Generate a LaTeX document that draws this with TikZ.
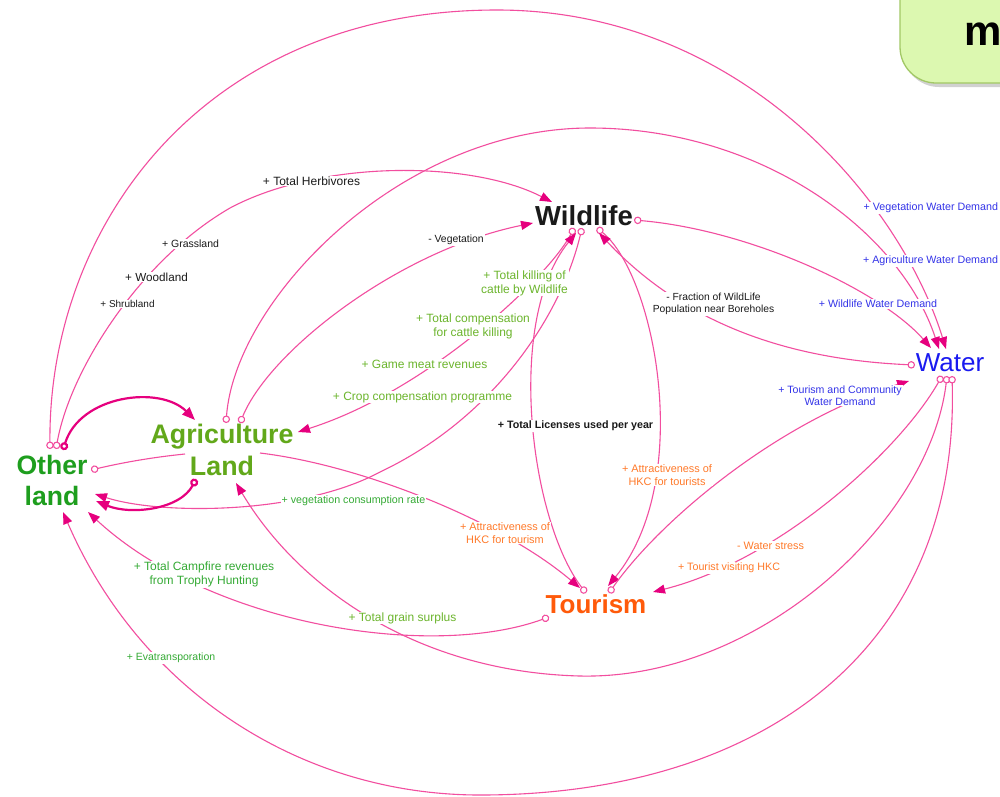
\documentclass[tikz,border=0pt]{standalone}
\usepackage{fontspec}
\setmainfont{Liberation Sans}
\usetikzlibrary{arrows.meta}
\definecolor{lnk}{HTML}{F24E9F}
\definecolor{arr}{HTML}{E6007E}
\definecolor{tblack}{HTML}{1A1A1A}
\definecolor{agri}{HTML}{62A81A}
\definecolor{oth}{HTML}{1E9E1E}
\definecolor{tour}{HTML}{FF5A0A}
\definecolor{wblue}{HTML}{1A1AF0}
\definecolor{lgreen}{HTML}{6CB52D}
\definecolor{dgreen}{HTML}{35AA35}
\definecolor{lblue}{HTML}{3434E8}
\definecolor{lorange}{HTML}{FF7A2A}
\definecolor{boxfill}{HTML}{DCF8B0}
\definecolor{boxline}{HTML}{A2C866}
\tikzset{
  link/.style={draw=lnk, line width=1.1pt,
    {Circle[length=7.5pt,width=7.5pt,fill=white]}-{Triangle[length=12pt,width=9pt,color=arr]}},
  linkplain/.style={draw=lnk, line width=1.1pt, -{Triangle[length=12pt,width=9pt,color=arr]}},
  linkcirc/.style={draw=lnk, line width=1.1pt, {Circle[length=7.5pt,width=7.5pt,fill=white]}-},
  thicklink/.style={draw=arr, line width=2.2pt,
    {Circle[length=8pt,width=8pt,fill=white]}-{Triangle[length=13pt,width=10pt,color=arr]}},
  lbl/.style={fill=white, inner sep=0.8pt, align=center},
  mainnode/.style={inner sep=0pt, align=center}
}
\begin{document}
\begin{tikzpicture}[x=1pt,y=-1pt]
\useasboundingbox (0,0) rectangle (1000,796);
\fill[white] (0,0) rectangle (1000,796);

% top-right box
\fill[black, opacity=0.18, rounded corners=36pt] (903,-40) rectangle (1043,87);
\draw[fill=boxfill, draw=boxline, line width=1.3pt, rounded corners=36pt] (900,-40) rectangle (1040,83);
\node[anchor=base west, inner sep=0pt, font=\bfseries\fontsize{42}{42}\selectfont] (boxm) at (964,45) {m};

% main variables
\node[mainnode, text=tblack, font=\bfseries\fontsize{27.5}{30}\selectfont] (wl) at (584,216) {Wildlife};
\node[mainnode, text=wblue, font=\fontsize{26}{30}\selectfont] (wa) at (950,363) {Water};
\node[mainnode, text=agri, font=\bfseries\fontsize{26.8}{32}\selectfont] (ag) at (222,450) {Agriculture\\Land};
\node[mainnode, text=oth, font=\bfseries\fontsize{26.6}{31}\selectfont] (ol) at (52,480) {Other\\land};
\node[mainnode, text=tour, font=\bfseries\fontsize{26}{30}\selectfont] (to) at (596,604) {Tourism};

% ports
\coordinate (ol1) at (50,449);
\coordinate (ol2) at (56,449);
\coordinate (ol3) at (63,450);
\coordinate (ol4) at (91,470);
\coordinate (olA) at (95,494);
\coordinate (olB) at (96,501);
\coordinate (olC) at (63,512);
\coordinate (olD) at (88,512);
\coordinate (ag1) at (226,423);
\coordinate (ag2) at (240,423);
\coordinate (ag3) at (196,479);
\coordinate (agA) at (298,432);
\coordinate (agB) at (195,420);
\coordinate (agC) at (236,483);
\coordinate (agR) at (260,453);
\coordinate (agL) at (185,454);
\coordinate (wlR) at (634,220);
\coordinate (wl1) at (574,228);
\coordinate (wl2) at (582,228);
\coordinate (wl3) at (597,228);
\coordinate (wlA) at (552,202);
\coordinate (wlB) at (533,223);
\coordinate (wlC) at (576,233);
\coordinate (wlD) at (599,233);
\coordinate (waL) at (915,365);
\coordinate (wa1) at (942,376);
\coordinate (wa2) at (947,376);
\coordinate (wa3) at (952,376);
\coordinate (waA) at (946,349);
\coordinate (waB) at (939,349);
\coordinate (waC) at (931,348);
\coordinate (waD) at (909,381);
\coordinate (to1) at (586,593);
\coordinate (to2) at (609,593);
\coordinate (to3) at (549,617);
\coordinate (toA) at (580,588);
\coordinate (toB) at (608,586);
\coordinate (toC) at (653,592);
\coordinate (apex1) at (497,10);
\coordinate (apex2) at (590,128);
\coordinate (hb) at (230,208);
\coordinate (vc) at (380,472);
\coordinate (gr) at (580,676);
\coordinate (ev) at (480,795);

% connectors
\draw[link] (ol1) .. controls (48,230) and (200,10) .. (apex1) .. controls (740,10) and (900,200) .. (waA);
\draw[link] (ag1) .. controls (235,300) and (400,128) .. (apex2) .. controls (760,128) and (900,230) .. (waB);
\draw[link] (wlR) .. controls (750,230) and (880,290) .. (waC);
\draw[link] (ol2) .. controls (70,370) and (140,260) .. (hb) .. controls (320,160) and (470,160) .. (wlA);
\draw[link] (ag2) .. controls (270,350) and (400,250) .. (wlB);
\draw[link] (wl1) .. controls (550,275) and (430,390) .. (agA);
\draw[link] (to1) .. controls (530,520) and (505,320) .. (wlC);
\draw[link] (wl2) .. controls (560,320) and (490,420) .. (vc) .. controls (300,515) and (160,515) .. (olA);
\draw[link] (wl3) .. controls (655,275) and (695,480) .. (toB);
\draw[link] (waL) .. controls (800,360) and (690,330) .. (wlD);
\draw[link] (to2) .. controls (660,520) and (780,420) .. (waD);
\draw[link] (wa1) .. controls (900,450) and (780,560) .. (toC);
\draw[link] (wa2) .. controls (930,520) and (760,680) .. (gr) .. controls (420,672) and (300,590) .. (agC);
\draw[link] (wa3) .. controls (960,650) and (760,795) .. (ev) .. controls (300,795) and (140,690) .. (olC);
\draw[link] (to3) .. controls (430,660) and (210,625) .. (olD);
\draw[linkplain] (agR) .. controls (360,465) and (500,520) .. (toA);
\draw[linkcirc] (ol4) .. controls (125,462) and (155,457) .. (agL);
\draw[thicklink] (ol3) .. controls (80,395) and (160,385) .. (agB);
\draw[thicklink] (ag3) .. controls (180,510) and (130,515) .. (olB);

% labels
\node[lbl, text=tblack, font=\fontsize{12}{14}\selectfont] (lHerb) at (311.5,181) {+ Total Herbivores};
\node[lbl, text=tblack, font=\fontsize{10.5}{12}\selectfont] (lGrass) at (190.5,244) {+ Grassland};
\node[lbl, text=tblack, font=\fontsize{11.7}{13}\selectfont] (lWood) at (156.5,277) {+ Woodland};
\node[lbl, text=tblack, font=\fontsize{10}{12}\selectfont] (lShrub) at (127.5,304) {+ Shrubland};
\node[lbl, text=tblack, font=\fontsize{10.4}{12}\selectfont] (lVeg) at (456,240) {- Vegetation};
\node[lbl, text=lgreen, font=\fontsize{12}{14}\selectfont] (lKill) at (524.5,283) {+ Total killing of\\cattle by Wildlife};
\node[lbl, text=lgreen, font=\fontsize{12}{14}\selectfont] (lComp) at (473,326) {+ Total compensation\\for cattle killing};
\node[lbl, text=lgreen, font=\fontsize{12}{14}\selectfont] (lGame) at (424.5,364) {+ Game meat revenues};
\node[lbl, text=lgreen, font=\fontsize{12}{14}\selectfont] (lCrop) at (422.5,397) {+ Crop compensation programme};
\node[lbl, text=tblack, font=\bfseries\fontsize{10.7}{12}\selectfont] (lLic) at (575.5,426) {+ Total Licenses used per year};
\node[lbl, text=tblack, font=\fontsize{10.3}{12.5}\selectfont] (lFrac) at (713.5,304) {- Fraction of WildLife\\Population near Boreholes};
\node[lbl, anchor=east, text=lblue, font=\fontsize{10.7}{12}\selectfont] (lVWD) at (999,208) {+ Vegetation Water Demand};
\node[lbl, anchor=east, text=lblue, font=\fontsize{10.7}{12}\selectfont] (lAWD) at (999,261) {+ Agriculture Water Demand};
\node[lbl, text=lblue, font=\fontsize{10.7}{12}\selectfont] (lWWD) at (878,304) {+ Wildlife Water Demand};
\node[lbl, text=lblue, font=\fontsize{10.6}{12.5}\selectfont] (lTCWD) at (840,395.5) {+ Tourism and Community\\Water Demand};
\node[lbl, text=lorange, font=\fontsize{10.9}{12.5}\selectfont] (lAtt1) at (667,475) {+ Attractiveness of\\HKC for tourists};
\node[lbl, text=dgreen, font=\fontsize{10.7}{12}\selectfont] (lVCR) at (353.5,501) {+ vegetation consumption rate};
\node[lbl, text=lorange, font=\fontsize{10.9}{12.5}\selectfont] (lAtt2) at (505,533) {+ Attractiveness of\\HKC for tourism};
\node[lbl, text=lorange, font=\fontsize{10.8}{12}\selectfont] (lWS) at (770.5,546) {- Water stress};
\node[lbl, text=lorange, font=\fontsize{10.7}{12}\selectfont] (lTV) at (729,568) {+ Tourist visiting HKC};
\node[lbl, text=dgreen, font=\fontsize{12}{13.5}\selectfont] (lCamp) at (204,574.5) {+ Total Campfire revenues\\from Trophy Hunting};
\node[lbl, text=lgreen, font=\fontsize{12}{14}\selectfont] (lGrain) at (402.5,618) {+ Total grain surplus};
\node[lbl, text=dgreen, font=\fontsize{10.5}{12}\selectfont] (lEva) at (171,658) {+ Evatransporation};
\end{tikzpicture}
\end{document}
